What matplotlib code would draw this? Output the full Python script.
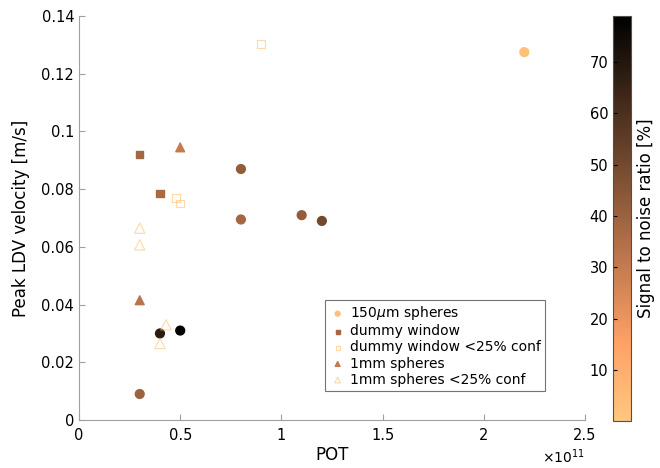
import matplotlib.pyplot as plt
from matplotlib.ticker import ScalarFormatter

# signal to noise ratio [%] drives the marker colour
SNR_MIN, SNR_MAX = 0, 79

# 150um spheres (filled circles)
sph150_pot = [2.2e11, 0.8e11, 0.8e11, 1.1e11, 1.2e11, 0.4e11, 0.5e11, 0.3e11]
sph150_vel = [0.1275, 0.087, 0.0695, 0.071, 0.069, 0.030, 0.031, 0.009]
sph150_snr = [3, 42, 38, 42, 50, 68, 79, 40]

# dummy window (filled squares)
dummy_pot = [0.3e11, 0.4e11]
dummy_vel = [0.092, 0.0785]
dummy_snr = [38, 37]

# dummy window <25% conf (open squares)
dummy_lc_pot = [0.9e11, 0.48e11, 0.5e11]
dummy_lc_vel = [0.1303, 0.077, 0.075]
dummy_lc_snr = [1, 1, 1]

# 1mm spheres (filled triangles)
sph1_pot = [0.5e11, 0.3e11]
sph1_vel = [0.0945, 0.0415]
sph1_snr = [30, 33]

# 1mm spheres <25% conf (open triangles)
sph1_lc_pot = [0.3e11, 0.3e11, 0.4e11, 0.43e11]
sph1_lc_vel = [0.0665, 0.0607, 0.0265, 0.033]
sph1_lc_snr = [1, 1, 1, 1]


class PlainScalar(ScalarFormatter):
    # "0", "0.5", "1" ... instead of "0.0", "0.5", "1.0"
    def _set_format(self):
        self.format = "%g"


cmap = plt.get_cmap("copper_r")
norm = plt.Normalize(SNR_MIN, SNR_MAX)

fig = plt.figure(figsize=(6.6, 4.68), dpi=100)
ax = fig.add_axes([0.1197, 0.1026, 0.7667, 0.863])
cax = fig.add_axes([0.929, 0.100, 0.027, 0.866])

sc = ax.scatter(sph150_pot, sph150_vel, c=sph150_snr, cmap=cmap, norm=norm,
                marker="o", s=40, label="150$\\mu$m spheres")
ax.scatter(dummy_pot, dummy_vel, c=dummy_snr, cmap=cmap, norm=norm,
           marker="s", s=28, label="dummy window")
ax.scatter(dummy_lc_pot, dummy_lc_vel, facecolors="none",
           edgecolors=cmap(norm(dummy_lc_snr), alpha=0.65), marker="s", s=30,
           linewidths=0.8, label="dummy window <25% conf")
ax.scatter(sph1_pot, sph1_vel, c=sph1_snr, cmap=cmap, norm=norm,
           marker="^", s=40, label="1mm spheres")
ax.scatter(sph1_lc_pot, sph1_lc_vel, facecolors="none",
           edgecolors=cmap(norm(sph1_lc_snr), alpha=0.65), marker="^", s=55,
           linewidths=0.8, label="1mm spheres <25% conf")

ax.set_xlim(0, 2.5e11)
ax.set_ylim(0, 0.14)
ax.set_xticks([0, 0.5e11, 1e11, 1.5e11, 2e11, 2.5e11])
ax.set_yticks([0, 0.02, 0.04, 0.06, 0.08, 0.1, 0.12, 0.14])
ax.set_yticklabels(["0", "0.02", "0.04", "0.06", "0.08", "0.1", "0.12", "0.14"])
fmt = PlainScalar(useMathText=True)
fmt.set_powerlimits((0, 0))
ax.xaxis.set_major_formatter(fmt)
ax.xaxis.get_offset_text().set_fontsize(10)

for side in ["top", "right"]:
    ax.spines[side].set_visible(False)
for side in ["left", "bottom"]:
    ax.spines[side].set_color("#a0a0a0")
ax.tick_params(direction="in", length=4, color="#a0a0a0", labelsize=10.5,
               labelcolor="black")
ax.tick_params(axis="x", pad=6)

ax.set_xlabel("POT", fontsize=12, labelpad=2)
ax.set_ylabel("Peak LDV velocity [m/s]", fontsize=12, labelpad=8)

leg = ax.legend(loc="lower right", bbox_to_anchor=(0.935, 0.055), fontsize=10,
                markerscale=0.55, handletextpad=0.3, borderpad=0.3,
                labelspacing=0.15, fancybox=False, handlelength=1.2)
leg.get_frame().set_edgecolor("#505050")
leg.get_frame().set_linewidth(0.8)

cb = fig.colorbar(sc, cax=cax)
cb.set_ticks([10, 20, 30, 40, 50, 60, 70])
cb.ax.yaxis.set_ticks_position("left")
cb.ax.tick_params(direction="in", length=3, labelsize=10.5)
cb.outline.set_edgecolor("#505050")
cb.set_label("Signal to noise ratio [%]", fontsize=12, labelpad=4)
cb.ax.yaxis.set_label_position("right")

fig.savefig("out.png", dpi=100)
